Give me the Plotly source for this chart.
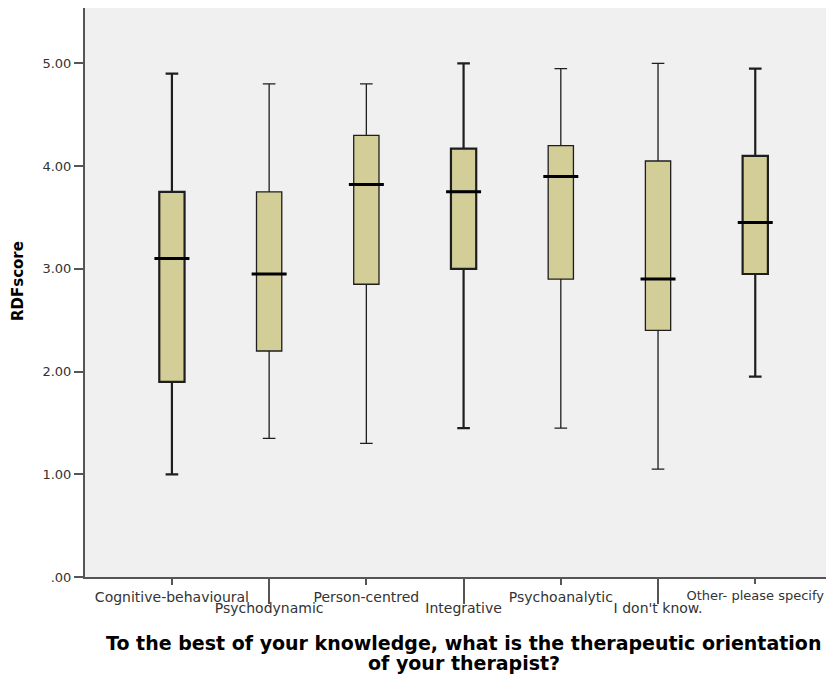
import plotly.graph_objects as go

categories = ["Cognitive-behavioural", "Psychodynamic", "Person-centred", "Integrative",
              "Psychoanalytic", "I don't know.", "Other- please specify"]
lower = [1.00, 1.35, 1.30, 1.45, 1.45, 1.05, 1.95]
q1 = [1.90, 2.20, 2.85, 3.00, 2.90, 2.40, 2.95]
median = [3.10, 2.95, 3.82, 3.75, 3.90, 2.90, 3.45]
q3 = [3.75, 3.75, 4.30, 4.17, 4.20, 4.05, 4.10]
upper = [4.90, 4.80, 4.80, 5.00, 4.95, 5.00, 4.95]
whisker_w = [2.2, 1.3, 1.3, 2.2, 1.3, 1.3, 2.2]
ytick_vals = [0, 1, 2, 3, 4, 5]
ytick_text = [".00", "1.00", "2.00", "3.00", "4.00", "5.00"]
y_title = "RDFscore"
x_title_lines = ["To the best of your knowledge, what is the therapeutic orientation",
                 "of your therapist?"]

FONT = "DejaVu Sans"
# the page body adds an 8px offset; figure coordinates = screen - 8
OFF = 8
W, H = 834 - OFF, 675 - OFF
pl, pr, pt, pb = 85 - OFF, 0, 0, H - (577 - OFF)
pw, ph = W - pl - pr, H - pt - pb


def px2paper(sx, sy):
    fx, fy = sx - OFF, sy - OFF
    return (fx - pl) / pw, (H - pb - fy) / ph


fig = go.Figure()
xs = list(range(len(categories)))
for i in xs:
    fig.add_trace(go.Box(
        x=[i], q1=[q1[i]], median=[median[i]], q3=[q3[i]],
        lowerfence=[lower[i]], upperfence=[upper[i]],
        width=0.26, whiskerwidth=0.5,
        fillcolor="rgb(211,206,151)",
        line=dict(color="#1e1e1e", width=whisker_w[i]),
        boxpoints=False, showlegend=False, hoverinfo="skip",
    ))
fig.add_trace(go.Scatter(
    x=xs, y=median, mode="markers",
    marker=dict(symbol="line-ew", size=25, line=dict(color="black", width=3)),
    showlegend=False, hoverinfo="skip",
))
for ax_name in ["x2", "x3"]:
    fig.add_trace(go.Scatter(x=[1], y=[0], xaxis=ax_name, mode="markers",
                             marker=dict(opacity=0), showlegend=False, hoverinfo="skip"))

xr = [-0.894, 6.81]
ytop = 577 - 7
yr = [0, ytop / 102.9]
tick_font = dict(family=FONT, size=14, color="#333333")
annotations = []
ax, ay = px2paper(18, 281)
annotations.append(dict(text="<b>%s</b>" % y_title, x=ax, y=ay, xref="paper", yref="paper",
                        xanchor="center", yanchor="middle", showarrow=False, textangle=-90,
                        font=dict(family=FONT, size=15, color="black")))
for line, cy in zip(x_title_lines, [643, 663]):
    ax, ay = px2paper(464, cy)
    annotations.append(dict(text="<b>%s</b>" % line, x=ax, y=ay, xref="paper", yref="paper",
                            xanchor="center", yanchor="middle", showarrow=False,
                            font=dict(family=FONT, size=19, color="black")))

common_x = dict(range=xr, tickmode="array", ticks="outside", tickwidth=2, tickcolor="#555555",
                showgrid=False, zeroline=False, automargin=False)
fig.update_layout(
    width=W, height=H,
    margin=dict(l=pl, r=pr, t=pt, b=pb, autoexpand=False),
    paper_bgcolor="white", plot_bgcolor="#F0F0F0",
    font=dict(family=FONT, size=12, color="#333333"),
    boxmode="overlay",
    xaxis=dict(common_x, tickvals=[0, 2, 4],
               ticktext=[categories[k] for k in [0, 2, 4]], ticklen=6,
               showline=True, linecolor="#555555", linewidth=2, mirror=True,
               tickfont=tick_font),
    xaxis2=dict(common_x, overlaying="x", anchor="y", side="bottom",
                tickvals=[1, 3, 5], ticktext=[categories[k] for k in [1, 3, 5]],
                ticklen=26, ticklabelstandoff=-8, showline=False, tickfont=tick_font),
    xaxis3=dict(common_x, overlaying="x", anchor="y", side="bottom",
                tickvals=[6], ticktext=[categories[6]], ticklen=6, showline=False,
                tickfont=dict(family=FONT, size=13, color="#333333")),
    yaxis=dict(range=yr, tickmode="array", tickvals=ytick_vals, ticktext=ytick_text,
               ticks="outside", ticklen=9, tickwidth=2, tickcolor="#555555",
               showline=True, linecolor="#555555", linewidth=2,
               showgrid=False, zeroline=False, automargin=False,
               tickfont=dict(family=FONT, size=13, color="#333333")),
    annotations=annotations,
)
fig.write_html("out.html")
